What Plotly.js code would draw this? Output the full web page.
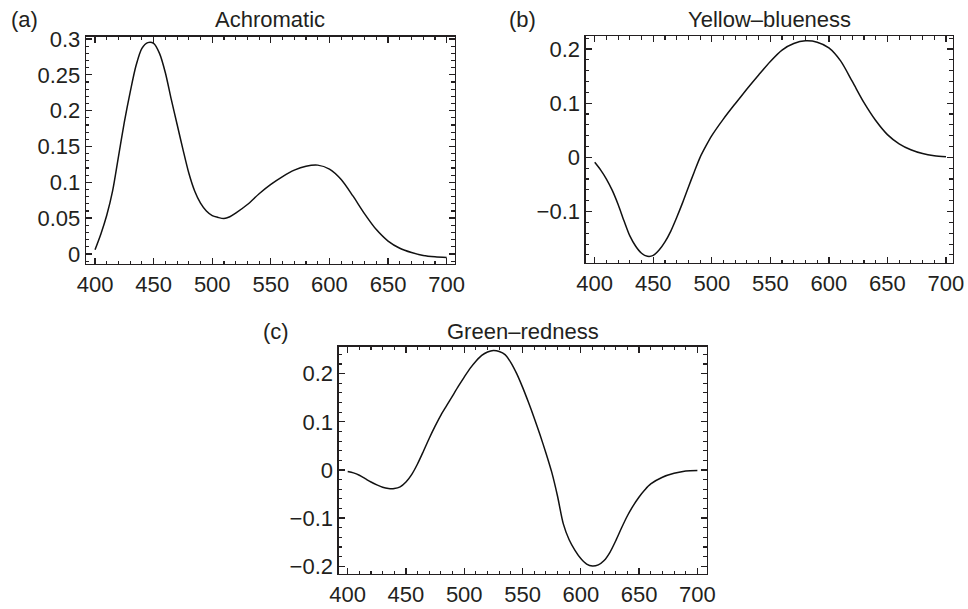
<!DOCTYPE html>
<html>
<head>
<meta charset="utf-8">
<script src="https://cdn.plot.ly/plotly-3.0.1.min.js"></script>
<style>
  html, body { margin: 0; padding: 0; background: #fff; }
  #chart { width: 968px; height: 609px; }
</style>
</head>
<body>
<div id="chart"></div>
<script>
// Panel (a) Achromatic
const wlA = [400,405,410,415,420,425,430,435,440,445,450,455,460,465,470,475,480,485,490,495,500,505,510,515,520,530,540,550,560,570,580,590,600,610,620,630,640,650,660,670,680,690,700];
const achromatic = [0.006,0.028,0.054,0.088,0.136,0.184,0.226,0.263,0.287,0.295,0.294,0.280,0.253,0.216,0.181,0.146,0.113,0.088,0.071,0.060,0.0535,0.051,0.0495,0.052,0.057,0.069,0.084,0.097,0.108,0.117,0.1225,0.124,0.1185,0.104,0.081,0.056,0.034,0.018,0.008,0.002,-0.002,-0.004,-0.005];

// Panel (b) Yellow–blueness
const wlB = [400,405,410,415,420,425,430,435,440,445,450,455,460,465,470,475,480,485,490,495,500,510,520,530,540,550,560,570,580,590,600,610,620,630,640,650,660,670,680,690,700];
const yellowBlue = [-0.009,-0.023,-0.040,-0.061,-0.087,-0.117,-0.145,-0.164,-0.177,-0.1825,-0.181,-0.171,-0.156,-0.136,-0.111,-0.084,-0.055,-0.027,0.000,0.021,0.040,0.071,0.099,0.126,0.152,0.177,0.198,0.210,0.215,0.2125,0.202,0.178,0.140,0.101,0.068,0.042,0.025,0.014,0.007,0.003,0.001];

// Panel (c) Green–redness
const wlC = [400,405,410,415,420,425,430,435,440,445,450,455,460,465,470,475,480,485,490,495,500,505,510,515,520,525,530,535,540,545,550,555,560,565,570,575,580,585,590,595,600,605,610,615,620,625,630,635,640,645,650,655,660,670,680,690,700];
const greenRed = [-0.003,-0.006,-0.011,-0.018,-0.025,-0.031,-0.036,-0.0385,-0.0385,-0.035,-0.025,-0.009,0.013,0.039,0.066,0.091,0.114,0.134,0.154,0.174,0.193,0.211,0.226,0.238,0.245,0.248,0.246,0.2395,0.223,0.200,0.172,0.141,0.108,0.073,0.036,-0.004,-0.054,-0.112,-0.145,-0.167,-0.184,-0.1955,-0.1995,-0.197,-0.188,-0.171,-0.147,-0.120,-0.095,-0.074,-0.056,-0.041,-0.029,-0.015,-0.007,-0.002,-0.001];

const panelLabels = ['(a)', '(b)', '(c)'];
const panelTitles = ['Achromatic', 'Yellow\u2013blueness', 'Green\u2013redness'];

const FONT = 'Liberation Sans, Arial, Helvetica, sans-serif';
const INK = '#231f20';
const FS = 22;

function lineTrace(x, y, xa, ya) {
  return {
    x: x, y: y, xaxis: xa, yaxis: ya,
    type: 'scatter', mode: 'lines',
    line: { color: '#111', width: 1.5, shape: 'spline', smoothing: 0.8 },
    hoverinfo: 'skip', showlegend: false
  };
}

const data = [
  lineTrace(wlA, achromatic, 'x', 'y'),
  lineTrace(wlB, yellowBlue, 'x2', 'y2'),
  lineTrace(wlC, greenRed, 'x3', 'y3')
];

function xAxis(domain, range, anchor) {
  return {
    domain: domain, range: range, anchor: anchor,
    tick0: 400, dtick: 50,
    ticks: 'inside', ticklen: 6, tickwidth: 1.3, tickcolor: INK,
    minor: { dtick: 10, ticks: 'inside', ticklen: 3.5, tickwidth: 1.1, tickcolor: INK, showgrid: false },
    showline: true, linecolor: INK, linewidth: 1.3, mirror: 'allticks',
    showgrid: false, zeroline: false,
    tickfont: { family: FONT, size: FS, color: INK },
    fixedrange: true
  };
}
function yAxis(domain, range, anchor, dt, mdt) {
  return {
    domain: domain, range: range, anchor: anchor,
    tick0: 0, dtick: dt,
    ticks: 'inside', ticklen: 6, tickwidth: 1.3, tickcolor: INK,
    minor: { dtick: mdt, ticks: 'inside', ticklen: 3.5, tickwidth: 1.1, tickcolor: INK, showgrid: false },
    showline: true, linecolor: INK, linewidth: 1.3, mirror: 'allticks',
    showgrid: false, zeroline: false,
    tickfont: { family: FONT, size: FS, color: INK },
    fixedrange: true
  };
}

function ann(text, x, y) {
  return { text: text, x: x, y: y, xref: 'paper', yref: 'paper',
    xanchor: 'center', yanchor: 'middle', showarrow: false,
    font: { family: FONT, size: FS, color: INK } };
}

const layout = {
  width: 968, height: 609,
  margin: { l: 0, r: 0, t: 0, b: 0 },
  paper_bgcolor: '#fff', plot_bgcolor: '#fff',
  showlegend: false,
  xaxis:  xAxis([0.08884, 0.47004], [392.3, 707.1], 'y'),
  yaxis:  yAxis([0.5665, 0.9397], [-0.014, 0.3032], 'x', 0.05, 0.01),
  xaxis2: xAxis([0.60506, 0.98450], [392.3, 706.0], 'y2'),
  yaxis2: yAxis([0.5681, 0.9404], [-0.195, 0.2234], 'x2', 0.1, 0.02),
  xaxis3: xAxis([0.34990, 0.73006], [392.3, 708.0], 'y3'),
  yaxis3: yAxis([0.05747, 0.43071], [-0.216, 0.256], 'x3', 0.1, 0.02),
  annotations: [
    ann(panelLabels[0], 0.0248, 0.9672),
    ann(panelTitles[0], 0.2794, 0.9672),
    ann(panelLabels[1], 0.5393, 0.9672),
    ann(panelTitles[1], 0.7947, 0.9672),
    ann(panelLabels[2], 0.2851, 0.4553),
    ann(panelTitles[2], 0.5400, 0.4553)
  ]
};

Plotly.newPlot('chart', data, layout, { displayModeBar: false, staticPlot: true });
</script>
</body>
</html>
